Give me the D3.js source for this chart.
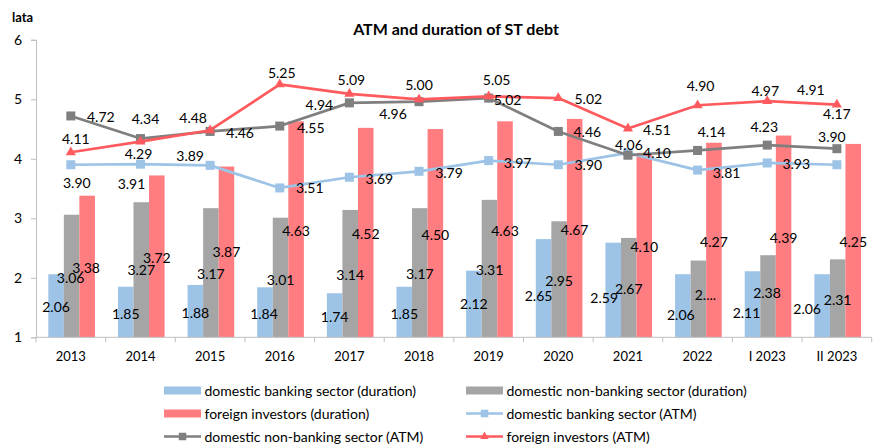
<!DOCTYPE html>
<html>
<head>
<meta charset="utf-8">
<script src="https://cdn.jsdelivr.net/npm/d3@7"></script>
<style>
  body { margin: 0; background: #fff; }
  text { font-family: Lato, "Open Sans", sans-serif; fill: #000; }
</style>
</head>
<body>
<svg id="chart" width="884" height="445"></svg>
<script>
// Years / periods on the horizontal axis
const categories = ["2013", "2014", "2015", "2016", "2017", "2018", "2019", "2020", "2021", "2022", "I 2023", "II 2023"];

// Duration (bars), years
const bankDuration    = [2.06, 1.85, 1.88, 1.84, 1.74, 1.85, 2.12, 2.65, 2.59, 2.06, 2.11, 2.06];
const nonBankDuration = [3.06, 3.27, 3.17, 3.01, 3.14, 3.17, 3.31, 2.95, 2.67, 2.29, 2.38, 2.31];
const foreignDuration = [3.38, 3.72, 3.87, 4.63, 4.52, 4.50, 4.63, 4.67, 4.10, 4.27, 4.39, 4.25];

// Average time to maturity (lines), years
const bankATM    = [3.90, 3.91, 3.89, 3.51, 3.69, 3.79, 3.97, 3.90, 4.10, 3.81, 3.93, 3.90];
const nonBankATM = [4.72, 4.34, 4.46, 4.55, 4.94, 4.96, 5.02, 4.46, 4.06, 4.14, 4.23, 4.17];
const foreignATM = [4.11, 4.29, 4.48, 5.25, 5.09, 5.00, 5.05, 5.02, 4.51, 4.90, 4.97, 4.91];

// Value axis ticks
const yTicks = [1, 2, 3, 4, 5, 6];

// Text shown for a bar label that did not fit its bar
const nonBankDurationText = nonBankDuration.map((v, i) => i === 9 ? "2...." : v.toFixed(2));

// Hand-placed offsets (px) of the bar labels relative to the middle of each bar
const bankBarLabelOffset    = [[0,0],[0,0],[0,0],[-1,0],[0,0],[0,0],[0,-1],[-5,6],[-9,7],[-2,7.5],[-6,7],[-15,1.5]];
const nonBankBarLabelOffset = [[-1,0],[0,-1],[0,0],[0,0.5],[0,0],[0,0],[0,0],[0,0],[0,0],[7,-5],[-1,-4.5],[0,0]];
const foreignBarLabelOffset = [[-1,0],[0,0],[0,-1],[0,0],[0,0],[0,0],[0,0],[0,0],[0,0.5],[0,0.5],[0,0],[0,0]];

// Hand-placed offsets (px) of the line value labels relative to their points
const bankLabelOffset    = [[6,18],[-9,19],[-20,-10],[30,0],[30,1],[30,1],[29,2],[30,0],[29,0],[29,2],[29,1],[-5,-28]];
const nonBankLabelOffset = [[30,1],[5,-20],[30,1],[31,1],[-30,2],[-26,12],[19,1],[29,0],[1,-11],[14,-19],[-3,-19],[0,-35]];
const foreignLabelOffset = [[5,-14],[-2,12],[-17,-13],[2,-12],[2,-14],[0,-15],[8,-17],[30,0],[29,1],[3,-20],[-2,-11],[-26,-15]];

const colors = {
  bankBar: "#9DC3E6", nonBankBar: "#A5A5A5", foreignBar: "#FF7C80",
  bankLine: "#9DC3E6", nonBankLine: "#7F7F7F", foreignLine: "#FF5B5F",
  axis: "#BFBFBF"
};

const svg = d3.select("#chart");
const plot = { left: 36, right: 871.7, top: 39.8, bottom: 337.3 };

const x = d3.scaleBand().domain(categories).range([plot.left, plot.right]).padding(0);
const y = d3.scaleLinear().domain([1, 6]).range([plot.bottom, plot.top]);

const barSeries = [
  { key: "bank", values: bankDuration, text: bankDuration.map(v => v.toFixed(2)), color: colors.bankBar, offset: bankBarLabelOffset },
  { key: "nonBank", values: nonBankDuration, text: nonBankDurationText, color: colors.nonBankBar, offset: nonBankBarLabelOffset },
  { key: "foreign", values: foreignDuration, text: foreignDuration.map(v => v.toFixed(2)), color: colors.foreignBar, offset: foreignBarLabelOffset }
];
const x1 = d3.scaleBand().domain(barSeries.map(s => s.key)).range([0, x.bandwidth()]).paddingInner(0).paddingOuter(0.74);

// Title and unit
svg.append("text").attr("x", 456).attr("y", 35).attr("text-anchor", "middle")
  .style("font-size", "16px").style("font-weight", "bold").text("ATM and duration of ST debt");
svg.append("text").attr("x", 12).attr("y", 22)
  .style("font-size", "13px").style("font-weight", "bold").text("lata");

// Y axis
const yAxis = svg.append("g").attr("transform", `translate(${plot.left},0)`)
  .call(d3.axisLeft(y).tickValues(yTicks).tickSize(5).tickPadding(9).tickFormat(d3.format("d")));
yAxis.select(".domain").attr("stroke", colors.axis);
yAxis.selectAll(".tick line").attr("stroke", colors.axis);
yAxis.selectAll(".tick text").style("font-size", "14px").style("font-family", "Lato, sans-serif").attr("fill", "#000");

// Bars
const barX = (key, i) => x(categories[i]) + x1(key) + 0.8;
barSeries.forEach(s => {
  svg.append("g").selectAll("rect").data(s.values).join("rect")
    .attr("x", (d, i) => barX(s.key, i))
    .attr("width", x1.bandwidth())
    .attr("y", d => y(d))
    .attr("height", d => y(1) - y(d))
    .attr("fill", s.color);
});

// X axis line with boundary ticks
const xAxis = svg.append("g");
xAxis.append("line").attr("x1", plot.left).attr("x2", plot.right)
  .attr("y1", plot.bottom).attr("y2", plot.bottom).attr("stroke", colors.axis);
xAxis.selectAll("line.tick").data(categories.map(c => x(c)).concat([plot.right])).join("line")
  .attr("class", "tick").attr("x1", d => d).attr("x2", d => d)
  .attr("y1", plot.bottom).attr("y2", plot.bottom + 5).attr("stroke", colors.axis);
xAxis.selectAll("text").data(categories).join("text")
  .attr("x", d => x(d) + x.bandwidth() / 2).attr("y", plot.bottom + 18.5)
  .attr("text-anchor", "middle").attr("dominant-baseline", "central")
  .style("font-size", "13px").text(d => d);

// Bar value labels, in the middle of each bar
barSeries.forEach(s => {
  svg.append("g").selectAll("text").data(s.values).join("text")
    .attr("x", (d, i) => barX(s.key, i) + x1.bandwidth() / 2 + s.offset[i][0])
    .attr("y", (d, i) => (y(d) + y(1)) / 2 + 1 + s.offset[i][1])
    .attr("text-anchor", "middle").attr("dominant-baseline", "central")
    .style("font-size", "14px")
    .text((d, i) => s.text[i]);
});

// Lines
const cx = c => x(c) + x.bandwidth() / 2;
const lineSeries = [
  { values: bankATM, color: colors.bankLine, marker: "square", offset: bankLabelOffset },
  { values: nonBankATM, color: colors.nonBankLine, marker: "square", offset: nonBankLabelOffset },
  { values: foreignATM, color: colors.foreignLine, marker: "triangle", offset: foreignLabelOffset }
];
const line = d3.line().x((d, i) => cx(categories[i])).y(d => y(d));

function drawMarker(g, type, px, py, color, size) {
  if (type === "square") {
    g.append("rect").attr("x", px - size / 2).attr("y", py - size / 2)
      .attr("width", size).attr("height", size).attr("fill", color);
  } else {
    g.append("path").attr("d", d3.symbol(d3.symbolTriangle, size * size * 0.55)())
      .attr("transform", `translate(${px},${py})`).attr("fill", color);
  }
}

lineSeries.forEach(s => {
  const g = svg.append("g");
  g.append("path").datum(s.values).attr("d", line)
    .attr("fill", "none").attr("stroke", s.color).attr("stroke-width", 2.7).attr("stroke-linejoin", "round");
  s.values.forEach((v, i) => drawMarker(g, s.marker, cx(categories[i]), y(v), s.color, 9));
});

// Line value labels
lineSeries.forEach(s => {
  svg.append("g").selectAll("text").data(s.values).join("text")
    .attr("x", (d, i) => cx(categories[i]) + s.offset[i][0])
    .attr("y", (d, i) => y(d) + s.offset[i][1])
    .attr("text-anchor", "middle").attr("dominant-baseline", "central")
    .style("font-size", "14px")
    .text(d => d.toFixed(2));
});

// Legend
const legendItems = [
  { label: "domestic banking sector (duration)", type: "bar", color: colors.bankBar, col: 0, row: 0 },
  { label: "domestic non-banking sector (duration)", type: "bar", color: colors.nonBankBar, col: 1, row: 0 },
  { label: "foreign investors (duration)", type: "bar", color: colors.foreignBar, col: 0, row: 1 },
  { label: "domestic banking sector (ATM)", type: "square", color: colors.bankLine, col: 1, row: 1 },
  { label: "domestic non-banking sector (ATM)", type: "square", color: colors.nonBankLine, col: 0, row: 2 },
  { label: "foreign investors (ATM)", type: "triangle", color: colors.foreignLine, col: 1, row: 2 }
];
const legendColX = [164, 466];
const legendRowY = [390.5, 413.5, 436.5];
legendItems.forEach(it => {
  const g = svg.append("g").attr("transform", `translate(${legendColX[it.col]},${legendRowY[it.row]})`);
  if (it.type === "bar") {
    g.append("rect").attr("x", 0).attr("y", -4).attr("width", 37).attr("height", 8).attr("fill", it.color);
  } else {
    g.append("line").attr("x1", 0).attr("x2", 37).attr("y1", 0).attr("y2", 0)
      .attr("stroke", it.color).attr("stroke-width", 2.7);
    drawMarker(g, it.type, 18.5, 0, it.color, 7.5);
  }
  g.append("text").attr("x", 40.5).attr("y", 0).attr("dominant-baseline", "central")
    .style("font-size", "14px").text(it.label);
});
</script>
</body>
</html>
